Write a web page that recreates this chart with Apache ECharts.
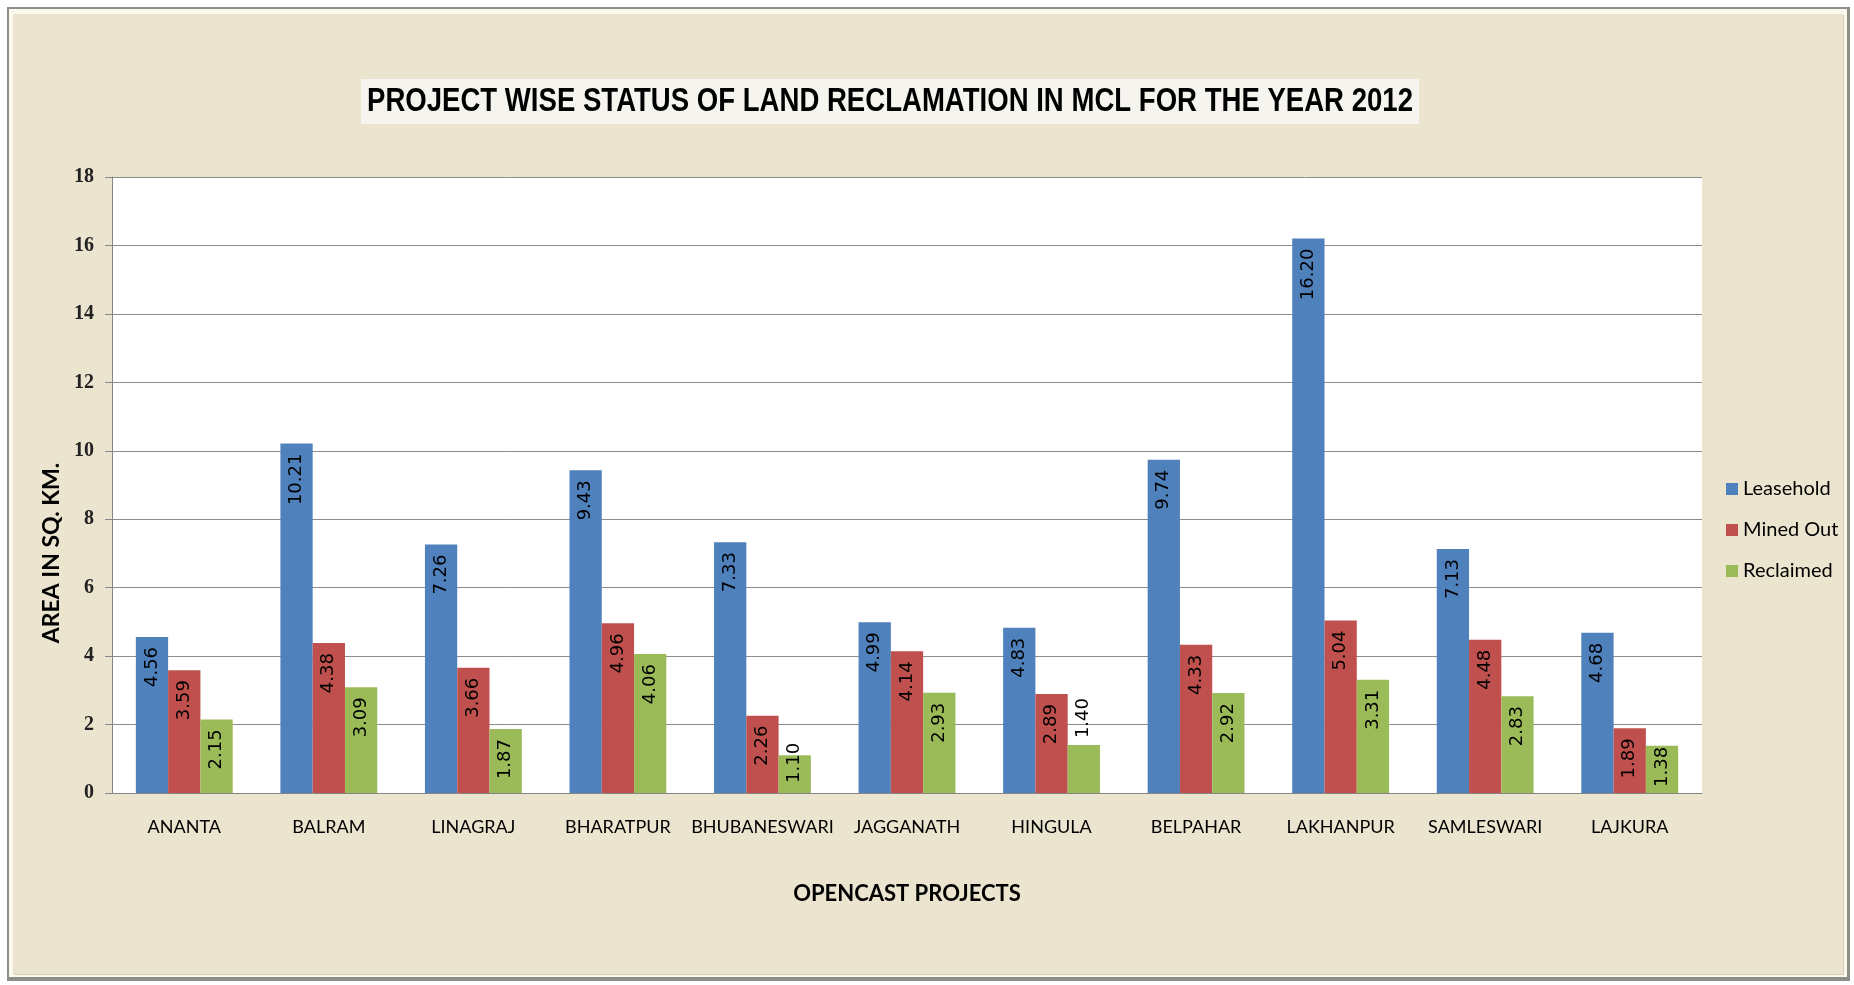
<!DOCTYPE html>
<html>
<head>
<meta charset="utf-8">
<script src="https://cdn.jsdelivr.net/npm/echarts@6/dist/echarts.min.js"></script>
<style>
html,body{margin:0;padding:0;background:#fff;}
#chart{width:1854px;height:985px;}
</style>
</head>
<body>
<div id="chart"></div>
<script>
const categories = ['ANANTA','BALRAM','LINAGRAJ','BHARATPUR','BHUBANESWARI','JAGGANATH','HINGULA','BELPAHAR','LAKHANPUR','SAMLESWARI','LAJKURA'];
const leasehold = [4.56, 10.21, 7.26, 9.43, 7.33, 4.99, 4.83, 9.74, 16.20, 7.13, 4.68];
const minedOut  = [3.59, 4.38, 3.66, 4.96, 2.26, 4.14, 2.89, 4.33, 5.04, 4.48, 1.89];
const reclaimed = [2.15, 3.09, 1.87, 4.06, 1.10, 2.93, 1.40, 2.92, 3.31, 2.83, 1.38];
const yTicks = [0, 2, 4, 6, 8, 10, 12, 14, 16, 18];
const titleText = 'PROJECT WISE STATUS OF LAND RECLAMATION IN MCL FOR THE YEAR 2012';

const chart = echarts.init(document.getElementById('chart'), null, {renderer: 'canvas'});

// condensed title: measure natural width and squeeze horizontally
const titleFont = "bold 33px 'Liberation Sans', Arial, sans-serif";
const ctx = document.createElement('canvas').getContext('2d');
ctx.font = titleFont;
const titleNatural = ctx.measureText(titleText).width;
const titleTarget = 1046;
const titleScale = titleTarget / titleNatural;

const labelFont = "'DejaVu Sans', sans-serif";
function baseLabel() {
  return {
    show: true, position: 'insideTop', rotate: 90, align: 'right', verticalAlign: 'middle',
    distance: 10, color: '#000', fontFamily: labelFont, fontSize: 18,
    formatter: p => p.value.toFixed(2)
  };
}
const labelOverrides = {
  'Reclaimed': {
    4: {position: 'insideBottom', align: 'left', distance: 10},
    6: {position: 'top', align: 'left', distance: 7},
    10: {position: 'insideBottom', align: 'left', distance: 6}
  }
};
function makeSeries(name, values, color) {
  const ov = labelOverrides[name] || {};
  return {
    name: name, type: 'bar', barGap: '0%', barCategoryGap: '33%',
    itemStyle: {color: color},
    label: baseLabel(),
    data: values.map((v, i) => ov[i] ? {value: v, label: Object.assign(baseLabel(), ov[i])} : v)
  };
}

const option = {
  backgroundColor: '#ffffff',
  animation: false,
  graphic: [
    {type: 'rect', z: -100, shape: {x: 7, y: 7, width: 1843, height: 974}, style: {fill: '#8e8e86'}},
    {type: 'rect', z: -99, shape: {x: 9, y: 9, width: 1838, height: 968}, style: {fill: '#fbf8ec'}},
    {type: 'rect', z: -98, shape: {x: 14, y: 15, width: 1830, height: 960}, style: {fill: '#d5cfba'}},
    {type: 'rect', z: -97, shape: {x: 13, y: 14, width: 1830, height: 960}, style: {fill: '#ebe5d0'}},
    {type: 'rect', z: 5, shape: {x: 361, y: 79, width: 1058, height: 45}, style: {fill: '#f6f4ef'}},
    {type: 'text', z: 6, x: 890, y: 102, scaleX: titleScale, scaleY: 1,
     style: {text: titleText, fill: '#000', font: titleFont, align: 'center', verticalAlign: 'middle'}},
    {type: 'text', z: 10, x: 52, y: 553, rotation: Math.PI / 2,
     style: {text: 'AREA IN SQ. KM.', fill: '#000', font: "bold 23px Lato, sans-serif", align: 'center', verticalAlign: 'middle'}}
  ],
  legend: {
    orient: 'vertical', left: 1721, top: 474,
    itemWidth: 12, itemHeight: 12, itemGap: 21,
    icon: 'rect',
    textStyle: {fontFamily: 'Lato, sans-serif', fontSize: 20, lineHeight: 20, color: '#000'},
    data: ['Leasehold', 'Mined Out', 'Reclaimed']
  },
  grid: {left: 112, right: 152, top: 177, bottom: 192, show: true, backgroundColor: '#ffffff', borderWidth: 0},
  xAxis: {
    type: 'category', data: categories,
    name: 'OPENCAST PROJECTS', nameLocation: 'middle', nameGap: 90,
    nameTextStyle: {fontFamily: 'Lato, sans-serif', fontWeight: 'bold', fontSize: 22, color: '#000'},
    axisLine: {lineStyle: {color: '#858585', width: 1}},
    axisTick: {show: false},
    axisLabel: {fontFamily: 'Lato, sans-serif', fontSize: 18, color: '#000', margin: 25, interval: 0}
  },
  yAxis: {
    type: 'value', min: yTicks[0], max: yTicks[yTicks.length - 1], interval: 2,
    axisLine: {show: true, lineStyle: {color: '#858585', width: 1}},
    axisTick: {show: true, inside: false, length: 7, lineStyle: {color: '#858585'}},
    splitLine: {show: true, lineStyle: {color: '#8c8c8c', width: 1}},
    axisLabel: {fontFamily: "'Liberation Serif', serif", fontWeight: 'bold', fontSize: 20, color: '#222', margin: 18}
  },
  series: [
    makeSeries('Leasehold', leasehold, '#4f81bd'),
    makeSeries('Mined Out', minedOut, '#c0504d'),
    makeSeries('Reclaimed', reclaimed, '#9bbb59')
  ]
};
chart.setOption(option);
</script>
</body>
</html>
